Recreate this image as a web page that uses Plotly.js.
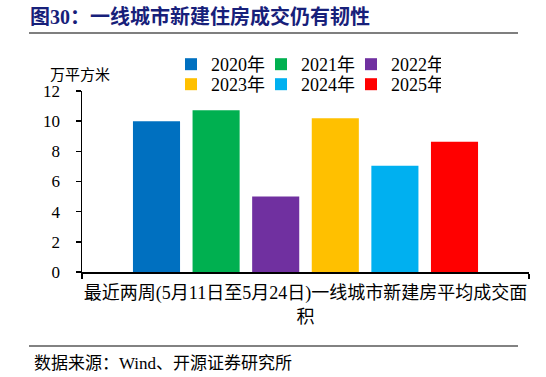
<!DOCTYPE html>
<html>
<head>
<meta charset="utf-8">
<script src="https://cdn.plot.ly/plotly-3.0.1.min.js"></script>
<style>html,body{margin:0;padding:0;background:#fff;}#chart{width:546px;height:377px;}</style>
</head>
<body>
<div id="chart"></div>
<script>
var categories = ["最近两周(5月11日至5月24日)一线城市新建房平均成交面<br>积"];
var seriesNames = ["2020年", "2021年", "2022年", "2023年", "2024年", "2025年"];
var seriesValues = [[10.0], [10.72], [5.0], [10.2], [7.05], [8.63]];
var seriesColors = ["#0070C0", "#00B050", "#7030A0", "#FFC000", "#00B0F0", "#FF0000"];
var legendRows = ["legend", "legend", "legend", "legend2", "legend2", "legend2"];
var yTicks = [0, 2, 4, 6, 8, 10, 12];

var FONT = "'Liberation Serif', 'Times New Roman', 'Noto Sans CJK SC', serif";
var CJK = "'Noto Sans CJK SC', 'Liberation Serif', serif";

var traces = seriesNames.map(function (n, i) {
  return {
    type: "bar",
    name: n,
    x: categories,
    y: seriesValues[i],
    legend: legendRows[i],
    marker: { color: seriesColors[i], line: { width: 0 } },
    hoverinfo: "skip"
  };
});

// plot area: x 82..529, y 91..272
var L = 82, R = 529, T = 91, B = 272;
function px(x) { return (x - L) / (R - L); }
function py(y) { return (B - y) / (B - T); }

function legendAt(topY) {
  return {
    orientation: "h",
    x: px(171), xanchor: "left",
    y: py(topY), yanchor: "top",
    entrywidth: 45, entrywidthmode: "pixels",
    font: { family: FONT, size: 18, color: "#000" },
    itemwidth: 30,
    tracegroupgap: 0,
    bgcolor: "rgba(0,0,0,0)"
  };
}

var layout = {
  width: 546, height: 377,
  margin: { l: L, r: 546 - R, t: T, b: 377 - B, pad: 0, autoexpand: false },
  paper_bgcolor: "#fff", plot_bgcolor: "#fff",
  font: { family: FONT, size: 16, color: "#000" },
  barmode: "group",
  bargap: 0.2,
  bargroupgap: 0.21,
  showlegend: true,
  title: {
    text: "<b>图30：一线城市新建住房成交仍有韧性</b>",
    font: { family: FONT, size: 20, color: "#17207A" },
    xref: "container", yref: "container",
    x: 30 / 546, xanchor: "left",
    y: 1 - 17 / 377, yanchor: "middle"
  },
  legend: legendAt(46),
  legend2: legendAt(66),
  xaxis: {
    type: "category",
    range: [-0.5, 0.5],
    automargin: false,
    tickangle: 0,
    showline: true, linecolor: "#000", linewidth: 1.5,
    ticks: "outside", tickson: "boundaries", ticklen: 5, tickcolor: "#000", tickwidth: 1.5,
    showgrid: false, zeroline: false,
    tickfont: { family: FONT, size: 18, color: "#000" },
    ticklabelstandoff: 4
  },
  yaxis: {
    range: [0, 12],
    automargin: false,
    tickvals: yTicks,
    ticktext: yTicks.map(String),
    showline: true, linecolor: "#000", linewidth: 1.5,
    ticks: "outside", ticklen: 5, tickcolor: "#000", tickwidth: 1.5,
    showgrid: false, zeroline: false,
    tickfont: { family: FONT, size: 17, color: "#000" },
    ticklabelstandoff: 12
  },
  shapes: [
    { type: "line", xref: "paper", yref: "paper", x0: px(29), x1: px(518), y0: py(33), y1: py(33), line: { color: "#7F7F7F", width: 2 } },
    { type: "line", xref: "paper", yref: "paper", x0: px(29), x1: px(518), y0: py(346), y1: py(346), line: { color: "#595959", width: 1.5 } }
  ],
  annotations: [
    { text: "万平方米", xref: "paper", yref: "paper", x: px(80), y: py(73), xanchor: "center", yanchor: "middle", showarrow: false, font: { family: CJK, size: 15, color: "#000" } },
    { text: "数据来源：Wind、开源证券研究所", xref: "paper", yref: "paper", x: px(32), y: py(363), xanchor: "left", yanchor: "middle", showarrow: false, font: { family: FONT, size: 17, color: "#000" } }
  ]
};

Plotly.newPlot("chart", traces, layout, { displayModeBar: false, staticPlot: true });
</script>
</body>
</html>
